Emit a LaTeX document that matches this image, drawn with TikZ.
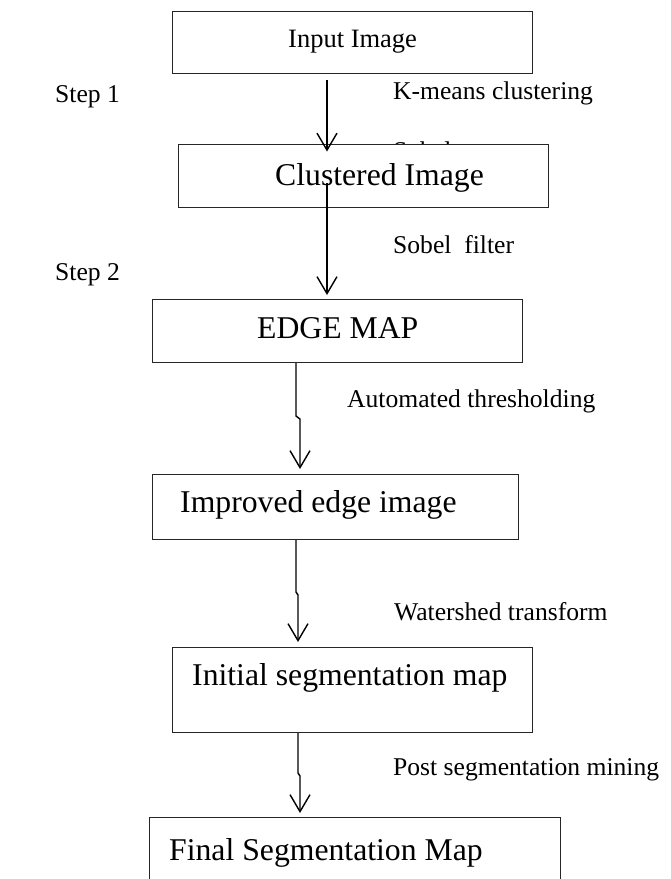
\documentclass[tikz,border=0pt]{standalone}
\usepackage{fontspec}
\setmainfont{Liberation Serif}
\usetikzlibrary{arrows.meta,calc}
\begin{document}
\begin{tikzpicture}[x=1pt,y=-1pt,
  box/.style={draw=black!85, line width=1.2pt, fill=white, inner sep=0pt, anchor=north west},
  big/.style={font=\fontsize{31.7}{36}\selectfont, inner sep=0pt, anchor=base west},
  small/.style={font=\fontsize{25.6}{30}\selectfont, inner sep=0pt, anchor=base west},
  flow/.style={line width=1.4pt, -{Straight Barb[length=17pt,width=20pt,line width=1.4pt]}}]
\clip (0,0) rectangle (671,879);
\fill[white] (0,0) rectangle (671,879);
% hidden label behind box 2
\node[small] (sobh) at (393,159.5) {Sobel};
% boxes
\node[box, minimum width=360pt, minimum height=62pt] (b1) at (172,11) {};
\node[box, minimum width=370pt, minimum height=63pt] (b2) at (178,144) {};
\node[box, minimum width=370pt, minimum height=63pt] (b3) at (152,299) {};
\node[box, minimum width=366pt, minimum height=65pt] (b4) at (152,474) {};
\node[box, minimum width=360pt, minimum height=85pt] (b5) at (172,647) {};
\node[box, minimum width=411pt, minimum height=80pt] (b6) at (149,817) {};
% box texts
\node[small, font=\fontsize{26.5}{30}\selectfont] (t1) at (288,47) {Input Image};
\node[big] (t2) at (275,185) {Clustered Image};
\node[big] (t3) at (257,338) {EDGE MAP};
\node[big] (t4) at (180,512) {Improved edge image};
\node[big] (t5) at (192,685) {Initial segmentation map};
\node[big] (t6) at (169,860) {Final Segmentation Map};
% side labels
\node[small] (s1) at (55,102) {Step 1};
\node[small] (s2) at (55,280) {Step 2};
\node[small] (l1) at (393,99) {K-means clustering};
\node[small] (l2) at (393,253) {Sobel\ \ filter};
\node[small] (l3) at (347,407) {Automated thresholding};
\node[small] (l4) at (394,620) {Watershed transform};
\node[small] (l5) at (393,775) {Post segmentation mining};
% connectors
\coordinate (a1) at (327,80);
\draw[flow] (a1) -- ($(a1 |- b2.north)+(0,7.5)$);
\coordinate (a2) at (327,183);
\draw[flow] (a2) -- ($(a2 |- b3.north)+(0,-4)$);
\coordinate (j3a) at (296,416);
\coordinate (j3b) at (300,419);
\draw[flow] (j3a |- b3.south) -- (j3a) -- (j3b) -- ($(j3b |- b4.north)+(0,-5)$);
\coordinate (j4a) at (296,592);
\coordinate (j4b) at (298,595);
\draw[flow] (j4a |- b4.south) -- (j4a) -- (j4b) -- ($(j4b |- b5.north)+(0,-5)$);
\coordinate (j5a) at (298,773);
\coordinate (j5b) at (300,776);
\draw[flow] (j5a |- b5.south) -- (j5a) -- (j5b) -- ($(j5b |- b6.north)+(0,-4)$);
\end{tikzpicture}
\end{document}
